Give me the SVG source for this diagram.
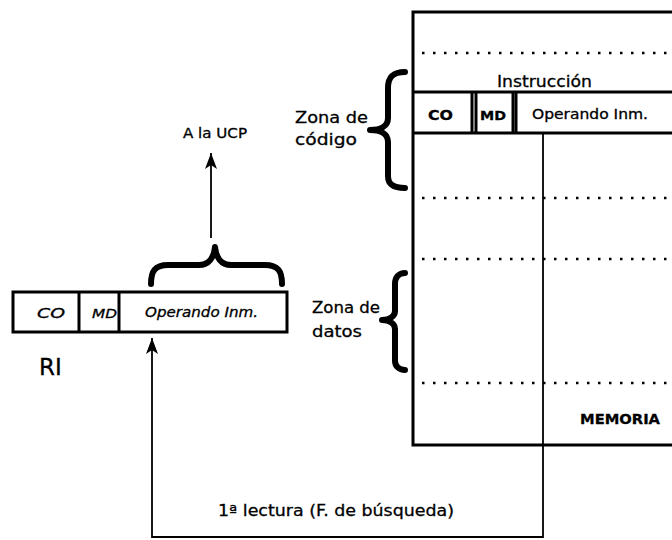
<svg xmlns="http://www.w3.org/2000/svg" width="672" height="540" viewBox="0 0 672 540">
<style>
text{font-family:"DejaVu Sans","Liberation Sans",Arial,sans-serif;fill:#000;stroke:#000;stroke-width:0.3}
.thick{fill:none;stroke:#000;stroke-width:3}
.cell{fill:#fff;stroke:#000;stroke-width:3}
.dots{stroke:#000;stroke-width:2.5;stroke-dasharray:2.5 8.5;fill:none}
.brace{fill:none;stroke:#000;stroke-width:6;stroke-linecap:round;stroke-linejoin:round}
.conn{fill:none;stroke:#000;stroke-width:1.8}
.it{font-style:italic}
</style>
<defs>
<marker id="ah" viewBox="0 0 16 12" refX="16" refY="6" markerWidth="16" markerHeight="12" markerUnits="userSpaceOnUse" orient="auto">
<path d="M16,6 L0,0 L4,6 L0,12 Z" fill="#000"/>
</marker>
</defs>
<rect width="672" height="540" fill="#fff"/>

<g id="memoria">
<path class="thick" d="M675,12 L413,12 L413,445 L675,445"/>
<line class="dots" x1="422" y1="53" x2="672" y2="53"/>
<text x="497" y="87" font-size="16" textLength="95" lengthAdjust="spacingAndGlyphs">Instrucción</text>
<line class="thick" x1="413" y1="92" x2="675" y2="92"/>
<line class="thick" x1="413" y1="133" x2="675" y2="133"/>
<line class="thick" x1="472" y1="92" x2="472" y2="133"/>
<line class="thick" x1="476" y1="92" x2="476" y2="133"/>
<line class="thick" x1="513" y1="92" x2="513" y2="133"/>
<line class="thick" x1="516" y1="92" x2="516" y2="133"/>
<text x="428" y="120" font-size="14" font-weight="bold" textLength="25" lengthAdjust="spacingAndGlyphs">CO</text>
<text x="480" y="120" font-size="13" font-weight="bold" textLength="26" lengthAdjust="spacingAndGlyphs">MD</text>
<text x="532" y="119" font-size="13.5" textLength="116" lengthAdjust="spacingAndGlyphs">Operando Inm.</text>
<line class="dots" x1="422" y1="198" x2="672" y2="198"/>
<line class="dots" x1="422" y1="259" x2="672" y2="259"/>
<line class="dots" x1="422" y1="383" x2="672" y2="383"/>
<text x="580" y="424" font-size="14" font-weight="bold" textLength="80" lengthAdjust="spacingAndGlyphs">MEMORIA</text>
</g>

<g id="zona-codigo">
<path class="brace" d="M405,72 C393,72 388,77 388,88 L388,118 C388,126 381,130 370,130 C381,130 388,134 388,142 L388,176 C388,184 393,188 405,188"/>
<text x="295" y="123" font-size="16" textLength="73" lengthAdjust="spacingAndGlyphs">Zona de</text>
<text x="295" y="145" font-size="16" textLength="62" lengthAdjust="spacingAndGlyphs">código</text>
</g>

<g id="zona-datos">
<path class="brace" d="M405,273 C399,273 395,277 395,284 L395,311 C395,316 390,320 382,320 C390,320 395,324 395,329 L395,361 C395,366 399,370 405,370"/>
<text x="312" y="313" font-size="16" textLength="68" lengthAdjust="spacingAndGlyphs">Zona de</text>
<text x="312" y="337" font-size="16" textLength="50" lengthAdjust="spacingAndGlyphs">datos</text>
</g>

<g id="ri">
<rect class="cell" x="13" y="292" width="274" height="40"/>
<line class="thick" x1="79" y1="292" x2="79" y2="332"/>
<line class="thick" x1="119" y1="292" x2="119" y2="332"/>
<text x="37" y="318" font-size="14" class="it" textLength="28" lengthAdjust="spacingAndGlyphs">CO</text>
<text x="92" y="318" font-size="13" class="it" textLength="25" lengthAdjust="spacingAndGlyphs">MD</text>
<text x="145" y="317" font-size="13.5" class="it" textLength="113" lengthAdjust="spacingAndGlyphs">Operando Inm.</text>
<text x="39" y="375" font-size="23">RI</text>
<path class="brace" d="M151,284 C151,271 155,265 168,265 L199,265 C209,265 214,257 215,247 C216,257 221,265 231,265 L265,265 C278,265 282,271 282,284"/>
</g>

<g id="ucp">
<text x="183" y="138" font-size="13.5" textLength="64" lengthAdjust="spacingAndGlyphs">A la UCP</text>
</g>

<g id="connectors">
<line class="conn" x1="211" y1="238" x2="211" y2="153" marker-end="url(#ah)"/>
<polyline class="conn" points="543,133 543,537 152,537 152,338" marker-end="url(#ah)"/>
<text x="218" y="516" font-size="16" textLength="236" lengthAdjust="spacingAndGlyphs">1ª lectura (F. de búsqueda)</text>
</g>
</svg>
